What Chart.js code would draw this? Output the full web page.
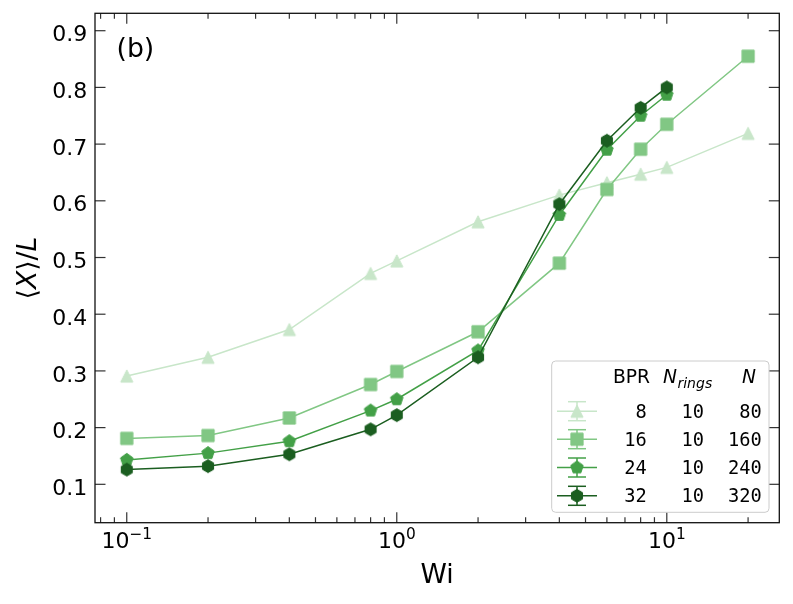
<!DOCTYPE html>
<html><head><meta charset="utf-8">
<style>html,body{margin:0;padding:0;background:#fff}#wrap{width:793px;height:604px}</style>
<script src="https://cdn.jsdelivr.net/npm/chart.js@4/dist/chart.umd.min.js"></script>
</head><body>
<div id="wrap"><canvas id="c" width="793" height="604"></canvas></div>
<script>
// ---- data ----
const wi    = [0.1, 0.2, 0.4, 0.8, 1, 2, 4, 6, 8, 10, 20];
const bpr8  = [0.291, 0.324, 0.373, 0.472, 0.494, 0.563, 0.610, 0.632, 0.647, 0.659, 0.719];
const bpr16 = [0.181, 0.186, 0.217, 0.276, 0.299, 0.369, 0.490, 0.620, 0.691, 0.735, 0.855];
const bpr24 = [0.143, 0.155, 0.176, 0.230, 0.250, 0.336, 0.575, 0.690, 0.750, 0.787];
const bpr32 = [0.126, 0.132, 0.153, 0.197, 0.222, 0.324, 0.594, 0.706, 0.764, 0.800];
const legBPR   = ['8', '16', '24', '32'];
const legRings = ['10', '10', '10', '10'];
const legN     = ['80', '160', '240', '320'];
const yTicks = [0.1, 0.2, 0.3, 0.4, 0.5, 0.6, 0.7, 0.8, 0.9];
const yTickLabels = ['0.1', '0.2', '0.3', '0.4', '0.5', '0.6', '0.7', '0.8', '0.9'];
const xMajor = [0.1, 1, 10];
const xTickExp = ['\u22121', '0', '1'];

// ---- styles ----
const colors = ['#c8e6c9', '#81c784', '#43a047', '#1b5e20'];
const shapes = ['tri', 'sq', 'pent', 'hex'];
const X_MIN = 0.07628, X_MAX = 26.1, Y_MIN = 0.0323, Y_MAX = 0.9307;
const FONT = '"DejaVu Sans", "Liberation Sans", sans-serif';
const MONO = '"DejaVu Sans Mono", "Liberation Mono", monospace';

function makeMarker(shape, color) {
  const W = 18, c = document.createElement('canvas');
  c.width = W; c.height = W;
  const g = c.getContext('2d'), cx = W / 2, cy = W / 2;
  g.beginPath();
  if (shape === 'tri') {
    const r = 6.1;
    g.moveTo(cx, cy - r); g.lineTo(cx - r, cy + r); g.lineTo(cx + r, cy + r);
  } else if (shape === 'sq') {
    const r = 6.1;
    g.rect(cx - r, cy - r, 2 * r, 2 * r);
  } else {
    const n = shape === 'pent' ? 5 : 6, R = shape === 'pent' ? 6.6 : 6.4;
    for (let k = 0; k < n; k++) {
      const a = -Math.PI / 2 + k * 2 * Math.PI / n;
      const px = cx + R * Math.cos(a), py = cy + R * Math.sin(a);
      k ? g.lineTo(px, py) : g.moveTo(px, py);
    }
  }
  g.closePath();
  g.fillStyle = color; g.fill();
  g.lineWidth = 1; g.strokeStyle = color; g.stroke();
  return c;
}
const markers = shapes.map((s, i) => makeMarker(s, colors[i]));

const series = [bpr8, bpr16, bpr24, bpr32];
const datasets = series.map((arr, i) => ({
  label: 'BPR ' + legBPR[i],
  data: arr.map((v, j) => ({x: wi[j], y: v})),
  borderColor: colors[i],
  backgroundColor: colors[i],
  borderWidth: 1.5,
  pointStyle: markers[i],
  pointRadius: 7,
  order: 4 - i,
  tension: 0
}));

function seg(ctx, x1, y1, x2, y2) { ctx.beginPath(); ctx.moveTo(x1, y1); ctx.lineTo(x2, y2); ctx.stroke(); }

const deco = {
  id: 'deco',
  afterDatasetsDraw(chart) {
    const {ctx, chartArea: a, scales: {x, y}} = chart;
    ctx.save();
    // ticks (inward, all sides)
    ctx.strokeStyle = '#333'; ctx.lineWidth = 1.2;
    yTicks.forEach(v => {
      const py = y.getPixelForValue(v);
      seg(ctx, a.left, py, a.left + 10.5, py);
      seg(ctx, a.right, py, a.right - 10.5, py);
    });
    for (let d = -2; d <= 1; d++) {
      for (let m = 1; m <= 9; m++) {
        const v = m * Math.pow(10, d);
        if (v < X_MIN || v > X_MAX) continue;
        const len = m === 1 ? 10.5 : 5.5;
        const px = x.getPixelForValue(v);
        seg(ctx, px, a.bottom, px, a.bottom - len);
        seg(ctx, px, a.top, px, a.top + len);
      }
    }
    // frame
    ctx.strokeStyle = '#111'; ctx.lineWidth = 1.3;
    ctx.strokeRect(a.left, a.top, a.right - a.left, a.bottom - a.top);

    ctx.fillStyle = '#000';
    // y tick labels
    ctx.font = '22px ' + FONT; ctx.textAlign = 'right'; ctx.textBaseline = 'alphabetic';
    yTicks.forEach((v, i) => ctx.fillText(yTickLabels[i], a.left - 7.7, y.getPixelForValue(v) + 10.6));
    // x tick labels 10^n
    ctx.textAlign = 'left';
    xMajor.forEach((v, i) => {
      const px = x.getPixelForValue(v);
      ctx.font = '22px ' + FONT; const w1 = ctx.measureText('10').width;
      ctx.font = '15.4px ' + FONT; const w2 = ctx.measureText(xTickExp[i]).width;
      const s = px - (w1 + w2) / 2;
      ctx.font = '22px ' + FONT; ctx.fillText('10', s, 548);
      ctx.font = '15.4px ' + FONT; ctx.fillText(xTickExp[i], s + w1, 538.5);
    });
    // x title
    ctx.font = '26.7px ' + FONT; ctx.textAlign = 'center';
    ctx.fillText('Wi', (a.left + a.right) / 2, 583.3);
    // y title
    ctx.save();
    ctx.translate(35.5, (a.top + a.bottom) / 2); ctx.rotate(-Math.PI / 2);
    const parts = [['\u27E8', ''], ['X', 'italic '], ['\u27E9', ''], ['/', ''], ['L', 'italic ']];
    let tot = 0;
    parts.forEach(p => { ctx.font = p[1] + '26.7px ' + FONT; tot += ctx.measureText(p[0]).width; });
    let cx = -tot / 2; ctx.textAlign = 'left';
    parts.forEach(p => { ctx.font = p[1] + '26.7px ' + FONT; ctx.fillText(p[0], cx, 0); cx += ctx.measureText(p[0]).width; });
    ctx.restore();
    // panel label
    ctx.font = '26.7px ' + FONT; ctx.textAlign = 'left';
    ctx.fillText('(b)', 116.5, 56.8);
    ctx.restore();
  },
  afterDraw(chart) {
    const ctx = chart.ctx;
    ctx.save();
    // legend box
    ctx.beginPath();
    ctx.roundRect(551.7, 361, 217.3, 151.3, 4);
    ctx.fillStyle = 'rgba(255,255,255,0.85)'; ctx.fill();
    ctx.strokeStyle = '#cccccc'; ctx.lineWidth = 1; ctx.stroke();
    ctx.fillStyle = '#000'; ctx.textBaseline = 'alphabetic';
    // header
    ctx.font = '18.7px ' + FONT; ctx.textAlign = 'right';
    ctx.fillText('BPR', 650, 383.3);
    ctx.textAlign = 'left';
    ctx.font = 'italic 18.7px ' + FONT;
    ctx.fillText('N', 663, 383.3);
    const wN = ctx.measureText('N').width;
    ctx.font = 'italic 14px ' + FONT;
    ctx.fillText('rings', 663 + wN + 0.5, 387.5);
    ctx.font = 'italic 18.7px ' + FONT;
    ctx.fillText('N', 742, 383.3);
    // rows
    const base = [417.7, 445.7, 474, 502.3];
    for (let i = 0; i < 4; i++) {
      const cy = base[i] - 6.5, cx = 577;
      ctx.strokeStyle = colors[i]; ctx.lineWidth = 1.5;
      seg(ctx, 557, cy, 597, cy);
      seg(ctx, cx, cy - 9.5, cx, cy + 9.5);
      seg(ctx, cx - 9, cy - 9.5, cx + 9, cy - 9.5);
      seg(ctx, cx - 9, cy + 9.5, cx + 9, cy + 9.5);
      ctx.drawImage(markers[i], cx - 9, cy - 9);
      ctx.font = '18.7px ' + MONO; ctx.textAlign = 'right';
      ctx.fillText(legBPR[i], 646.7, base[i]);
      ctx.fillText(legRings[i], 704, base[i]);
      ctx.fillText(legN[i], 761.7, base[i]);
    }
    ctx.restore();
  }
};

new Chart(document.getElementById('c'), {
  type: 'line',
  data: {datasets},
  options: {
    responsive: false,
    devicePixelRatio: 1,
    animation: false,
    layout: {padding: {left: 0, right: 13.7, top: 13.3, bottom: 0}},
    plugins: {legend: {display: false}, tooltip: {enabled: false}},
    scales: {
      x: {
        type: 'logarithmic', min: X_MIN, max: X_MAX,
        grid: {display: false, drawTicks: false}, border: {display: false},
        ticks: {display: false},
        afterFit(s) { s.height = 81.3; }
      },
      y: {
        type: 'linear', min: Y_MIN, max: Y_MAX,
        grid: {display: false, drawTicks: false}, border: {display: false},
        ticks: {display: false},
        afterFit(s) { s.width = 95; }
      }
    }
  },
  plugins: [deco]
});
</script>
</body></html>
